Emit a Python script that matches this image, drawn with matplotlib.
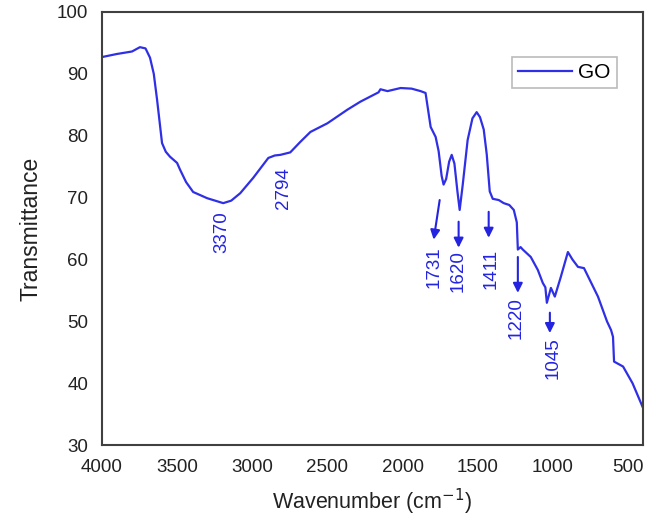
import numpy as np
import matplotlib.pyplot as plt

plt.rcParams['font.family'] = ['Liberation Sans', 'DejaVu Sans']

# FTIR spectrum of GO
wavenumber = [4000, 3900, 3800, 3747, 3710, 3680, 3655, 3633, 3600, 3575, 3547,
              3500, 3480, 3440, 3393, 3300, 3193, 3140, 3080, 2993, 2893, 2850,
              2813, 2747, 2680, 2613, 2500, 2367, 2280, 2200, 2160, 2147, 2100,
              2013, 1940, 1880, 1847, 1813, 1780, 1760, 1740, 1727, 1710, 1690,
              1673, 1655, 1635, 1620, 1600, 1567, 1535, 1507, 1485, 1460, 1440,
              1420, 1400, 1360, 1327, 1290, 1260, 1240, 1233, 1215, 1200, 1147,
              1100, 1067, 1050, 1040, 1013, 987, 947, 900, 870, 833, 793, 700,
              640, 613, 600, 593, 533, 470, 400]
transmittance = [92.7, 93.2, 93.6, 94.3, 94.1, 92.6, 90.0, 85.8, 78.8, 77.4, 76.6,
                 75.6, 74.5, 72.5, 70.9, 69.9, 69.1, 69.5, 70.7, 73.2, 76.4, 76.8,
                 76.9, 77.3, 79.0, 80.6, 82.0, 84.2, 85.5, 86.5, 87.0, 87.5, 87.2,
                 87.7, 87.6, 87.2, 86.9, 81.4, 79.8, 77.5, 73.5, 72.1, 73.0, 75.8,
                 76.9, 75.5, 71.0, 68.0, 72.0, 79.3, 82.8, 83.8, 83.0, 81.0, 77.0,
                 71.0, 69.8, 69.6, 69.1, 68.8, 68.0, 66.0, 61.6, 62.0, 61.6, 60.4,
                 58.3, 56.2, 55.5, 53.0, 55.4, 54.0, 57.2, 61.2, 60.0, 58.8, 58.6,
                 54.0, 50.0, 48.6, 47.5, 43.5, 42.7, 40.0, 36.0]

# peak labels: (text, text x, text y centre) and arrows (x, y start, y end)
peak_labels = ['3370', '2794', '1731', '1620', '1411', '1220', '1045']
label_x = [3200, 2794, 1793, 1633, 1413, 1247, 1000]
label_y = [64.4, 71.5, 58.7, 58.1, 58.5, 50.5, 44.1]
arrow_x0 = [1753, 1627, 1427, 1233, 1020]
arrow_x1 = [1793, 1627, 1427, 1233, 1020]
arrow_y0 = [69.6, 66.1, 67.7, 60.4, 51.4]
arrow_y1 = [63.2, 61.9, 63.5, 54.6, 48.1]

line_color = '#2f2fe6'
text_color = '#2424e0'

fig = plt.figure(figsize=(6.45, 5.17), dpi=100)
ax = fig.add_axes([0.158, 0.139, 0.839, 0.838])

ax.plot(wavenumber, transmittance, color=line_color, lw=1.6, label='GO')

for t, x, y in zip(peak_labels, label_x, label_y):
    ax.text(x, y, t, rotation=90, color=text_color, fontsize=13.5,
            ha='center', va='center')

for x0, x1, y0, y1 in zip(arrow_x0, arrow_x1, arrow_y0, arrow_y1):
    ax.annotate('', xy=(x1, y1), xytext=(x0, y0),
                arrowprops=dict(arrowstyle='-|>', color=text_color, lw=1.5,
                                mutation_scale=14, shrinkA=0, shrinkB=0))

ax.set_xlim(4000, 400)
ax.set_ylim(30, 100)
ax.set_xticks([4000, 3500, 3000, 2500, 2000, 1500, 1000, 500])
ax.set_yticks([30, 40, 50, 60, 70, 80, 90, 100])
ax.tick_params(length=0, labelsize=13.5, pad=10, colors='#222222')
for s in ax.spines.values():
    s.set_color('#404040')
    s.set_linewidth(1.5)

ax.set_xlabel('Wavenumber (cm$^{-1}$)', fontsize=15.5, labelpad=8, color='#222222')
ax.set_ylabel('Transmittance', fontsize=16.5, labelpad=10, color='#222222')

leg = ax.legend(loc='upper right', bbox_to_anchor=(0.952, 0.896), fontsize=15,
                fancybox=False, edgecolor='#aaaaaa', handlelength=2.6,
                borderpad=0.3, handletextpad=0.3, borderaxespad=0)
leg.get_frame().set_linewidth(1.2)

fig.savefig('out.png', dpi=100)
